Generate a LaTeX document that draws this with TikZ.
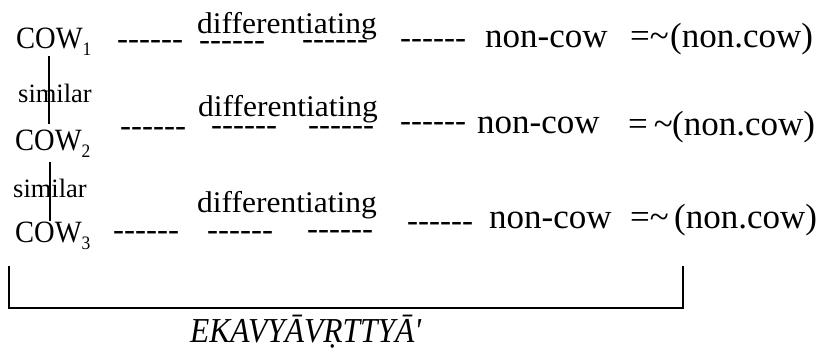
\documentclass[tikz,border=0pt]{standalone}
\usepackage{fontspec}
\setmainfont{Liberation Serif}
\newfontfamily\cowfont{Liberation Serif}[FakeStretch=0.92]
\newfontfamily\difffont{Liberation Serif}[FakeStretch=1.05]
\newfontfamily\ekavfont{Liberation Serif}[FakeStretch=0.9]
\newcommand{\hyphrun}{-{}-{}-{}-{}-{}-}
\newcommand{\lowidx}[1]{\raisebox{-7pt}{\fontsize{19}{19}\selectfont #1}}

\begin{document}
\begin{tikzpicture}[x=1pt,y=-1pt,
  txt/.style={inner sep=0pt,anchor=base west,font=\fontsize{32}{36}\selectfont},
  cowtxt/.style={txt,font=\fontsize{31}{34}\cowfont},
  simtxt/.style={txt,font=\fontsize{26.5}{30}\selectfont},
  dashrun/.style={txt,font=\fontsize{33}{36}\selectfont},
  difftxt/.style={txt,font=\fontsize{30}{36}\difffont},
  negtxt/.style={txt,font=\fontsize{35}{38}\selectfont},
  simline/.style={line width=1.4pt}]
\useasboundingbox (0,0) rectangle (827,349);
\node[cowtxt] (cow1) at (16,48) {COW\lowidx{1}};
\node[cowtxt] (cow2) at (15,150) {COW\lowidx{2}};
\node[cowtxt] (cow3) at (15,242) {COW\lowidx{3}};
\node[simtxt] (sim1) at (18,102) {similar};
\node[simtxt] (sim2) at (13,197) {similar};
\draw[simline] ([xshift=33pt,yshift=-1pt]cow1.south west) -- ([xshift=34pt,yshift=5pt]cow2.north west);
\draw[simline] ([xshift=35pt,yshift=-5pt]cow2.south west) -- ([xshift=35pt]cow3.north west);
\node[difftxt] (diff1) at (197,33) {differentiating};
\node[difftxt] (diff2) at (198,116) {differentiating};
\node[difftxt] (diff3) at (197,212) {differentiating};
\node[dashrun] (d11) at (117,49.5) {\hyphrun};
\node[dashrun] (d12) at (199,50) {\hyphrun};
\node[dashrun] (d13) at (302,49.5) {\hyphrun};
\node[dashrun] (d14) at (400,48.5) {\hyphrun};
\node[dashrun] (d21) at (120,136) {\hyphrun};
\node[dashrun] (d22) at (211,135.5) {\hyphrun};
\node[dashrun] (d23) at (308,135.5) {\hyphrun};
\node[dashrun] (d24) at (400,131.5) {\hyphrun};
\node[dashrun] (d31) at (113,240.5) {\hyphrun};
\node[dashrun] (d32) at (207,240.5) {\hyphrun};
\node[dashrun] (d33) at (307,239.5) {\hyphrun};
\node[dashrun] (d34) at (407,231.5) {\hyphrun};
\node[negtxt] (nc1) at (485,47) {non-cow};
\node[negtxt] (nc2) at (477,133) {non-cow};
\node[negtxt] (nc3) at (489,228) {non-cow};
\node[negtxt] (eq1) at (630,47) {=\textasciitilde};
\node[negtxt] (eq2) at (628,135) {=\,\textasciitilde};
\node[negtxt] (eq3) at (630,228) {=\textasciitilde};
\node[negtxt] (neg1) at (670,47) {(non.cow)};
\node[negtxt] (neg2) at (672,135) {(non.cow)};
\node[negtxt] (neg3) at (674,228) {(non.cow)};
\coordinate (brl) at (9,266);
\coordinate (brr) at (683,266);
\draw[line width=1.6pt] (brl) -- (9,308) -- (683,308) -- (brr);
\node[txt,font=\fontsize{35}{38}\ekavfont\itshape] (ekav) at (190,342) {EKAVYĀVṚTTYĀ\textquotesingle};
\end{tikzpicture}
\end{document}
